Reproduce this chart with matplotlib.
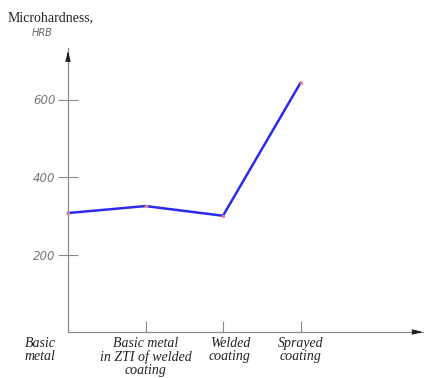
import matplotlib
matplotlib.use("Agg")
import matplotlib.pyplot as plt

categories = ["Basic\nmetal", "Basic metal\nin ZTI of welded\ncoating", "Welded\ncoating", "Sprayed\ncoating"]
values = [307, 325, 300, 643]
yticks = [200, 400, 600]

fig = plt.figure(figsize=(4.24, 3.78), dpi=100)
ax = fig.add_axes([68/424, 46/378, 356/424, 284/378])
xmax = 356/77.5
ymax = 284/0.3875
ax.set_xlim(0, xmax)
ax.set_ylim(0, ymax)

axis_c = "#8a8a8a"
xs = list(range(len(values)))
ax.plot(xs, values, color="#2a2af0", lw=1.8, zorder=3, clip_on=False)
ax.plot(xs, values, ls="none", marker="o", ms=2.5, color="#f08080", mec="none", zorder=4, clip_on=False)

for s in ["top", "right"]:
    ax.spines[s].set_visible(False)
for s in ["left", "bottom"]:
    ax.spines[s].set_color(axis_c)
    ax.spines[s].set_linewidth(0.9)

# arrows
ax.annotate("", xy=(1.005, 0), xytext=(0.97, 0), xycoords="axes fraction",
            arrowprops=dict(arrowstyle="-|>,head_length=0.6,head_width=0.15", color="#222222", lw=0.8,
                            mutation_scale=10), annotation_clip=False)
ax.annotate("", xy=(0, 1.0), xytext=(0, 0.95), xycoords="axes fraction",
            arrowprops=dict(arrowstyle="-|>,head_length=0.6,head_width=0.15", color="#222222", lw=0.8,
                            mutation_scale=10), annotation_clip=False)

ax.set_yticks(yticks)
ax.set_yticklabels([str(v) for v in yticks], fontstyle="italic", color="#777777",
                   fontsize=8.5, family="DejaVu Sans")
ax.tick_params(axis="y", direction="inout", length=14, width=0.8, color=axis_c, pad=2)
ax.set_xticks(xs[1:])
ax.set_xticklabels([])
ax.tick_params(axis="x", direction="in", length=8, width=0.8, color=axis_c)

offsets = [-0.36, 0, 0.09, 0]
for i, (lab, off) in enumerate(zip(categories, offsets)):
    ax.text(i + off, -13, lab, ha="center", va="top", fontsize=10, fontstyle="italic",
            family="Liberation Serif", color="#222222", linespacing=1.0, clip_on=False)

fig.text(8/424, 1 - 18/378, "Microhardness,", ha="left", va="center", family="Liberation Serif",
         fontsize=10, color="#222222")
fig.text(32/424, 1 - 33/378, "HRB", ha="left", va="center", family="DejaVu Sans",
         fontstyle="italic", fontsize=7, color="#666666")

fig.savefig("out.png", dpi=100)
